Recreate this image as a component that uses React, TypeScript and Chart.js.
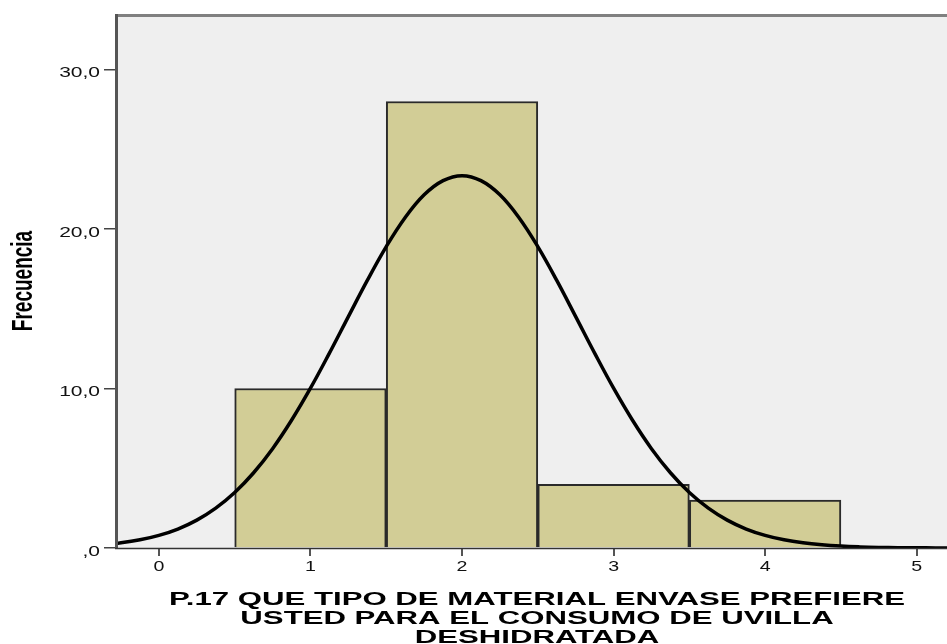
import React, { useEffect, useRef } from "react";
import { Chart, registerables } from "chart.js";

Chart.register(...registerables);

// Histogram bins (bin centres) and their frequencies
const binCenters = [1, 2, 3, 4];
const frequencies = [10, 28, 4, 3];

// Normal curve
const curveX = [
  -0.375, -0.25, -0.125, 0, 0.125, 0.25, 0.375, 0.5, 0.625, 0.75, 0.875, 1.0,
  1.125, 1.25, 1.375, 1.5, 1.625, 1.75, 1.875, 2.0, 2.125, 2.25, 2.375, 2.5,
  2.625, 2.75, 2.875, 3.0, 3.125, 3.25, 3.375, 3.5, 3.625, 3.75, 3.875, 4.0,
  4.125, 4.25, 4.375, 4.5, 4.625, 4.75, 4.875, 5.0, 5.125, 5.25,
];
const curveY = [
  0.198, 0.323, 0.513, 0.793, 1.19, 1.75, 2.5, 3.48, 4.72, 6.23, 8.01, 10.02,
  12.22, 14.51, 16.78, 18.9, 20.73, 22.15, 23.04, 23.35, 23.04, 22.15, 20.73, 18.9,
  16.78, 14.51, 12.22, 10.02, 8.01, 6.23, 4.72, 3.48, 2.5, 1.75, 1.19, 0.793,
  0.513, 0.323, 0.198, 0.118, 0.069, 0.039, 0.0215, 0.0116, 0.006, 0.003,
];

// Tick labels
const xTickValues = [0, 1, 2, 3, 4, 5];
const xTickLabels = ["0", "1", "2", "3", "4", "5"];
const yTickValues = [0, 10, 20, 30];
const yTickLabels = [",0", "10,0", "20,0", "30,0"];

const xTitleLines = [
  "P.17 QUE TIPO DE MATERIAL ENVASE PREFIERE",
  "USTED PARA EL CONSUMO DE UVILLA",
  "DESHIDRATADA",
];
const yTitle = "Frecuencia";

const FONT = '"Liberation Sans", Arial, sans-serif';

function drawStretched(
  ctx: CanvasRenderingContext2D,
  text: string,
  x: number,
  y: number,
  sx: number,
  font: string,
  align: CanvasTextAlign
) {
  ctx.save();
  ctx.translate(x, y);
  ctx.scale(sx, 1);
  ctx.font = font;
  ctx.textAlign = align;
  ctx.textBaseline = "alphabetic";
  ctx.fillText(text, 0, 0);
  ctx.restore();
}

const framePlugin = {
  id: "spssFrame",
  beforeDraw(chart: any) {
    const { ctx, chartArea: a } = chart;
    ctx.save();
    ctx.fillStyle = "#EFEFEF";
    ctx.fillRect(a.left, a.top, a.right - a.left, a.bottom - a.top);
    ctx.restore();
  },
  afterDraw(chart: any) {
    const { ctx, chartArea: a } = chart;
    ctx.save();
    // top border
    ctx.strokeStyle = "#808080";
    ctx.lineWidth = 3;
    ctx.beginPath();
    ctx.moveTo(a.left - 3, a.top - 1.5);
    ctx.lineTo(a.right, a.top - 1.5);
    ctx.stroke();
    // left axis
    ctx.strokeStyle = "#555555";
    ctx.lineWidth = 3;
    ctx.beginPath();
    ctx.moveTo(a.left - 1.5, a.top - 3);
    ctx.lineTo(a.left - 1.5, a.bottom + 1);
    ctx.stroke();
    // bottom axis
    ctx.strokeStyle = "#333333";
    ctx.lineWidth = 1.5;
    ctx.beginPath();
    ctx.moveTo(a.left - 3, a.bottom + 0.5);
    ctx.lineTo(a.right, a.bottom + 0.5);
    ctx.stroke();

    // tick labels
    ctx.fillStyle = "#111111";
    const xs = chart.scales.x;
    const ys = chart.scales.y;
    xTickValues.forEach((v, i) => {
      const px = xs.getPixelForValue(v);
      drawStretched(ctx, xTickLabels[i], px, 571, 1.4, `14px ${FONT}`, "center");
    });
    yTickValues.forEach((v, i) => {
      const py = ys.getPixelForValue(v);
      drawStretched(ctx, yTickLabels[i], 100, py + 7.5, 1.5, `14px ${FONT}`, "right");
    });

    // x title (stretched to the reference width)
    ctx.fillStyle = "#000000";
    ctx.font = `bold 19px ${FONT}`;
    const w0 = ctx.measureText(xTitleLines[0]).width;
    const sx = 736 / w0;
    const baselines = [605, 624, 643];
    xTitleLines.forEach((t, i) => {
      drawStretched(ctx, t, 537, baselines[i], sx, `bold 19px ${FONT}`, "center");
    });

    // y title, rotated
    ctx.save();
    ctx.translate(24, 281);
    ctx.scale(1.6, 1);
    ctx.rotate(-Math.PI / 2);
    ctx.font = `bold 19px ${FONT}`;
    ctx.textAlign = "center";
    ctx.textBaseline = "middle";
    ctx.fillText(yTitle, 0, 0);
    ctx.restore();

    ctx.restore();
  },
};

export default function App() {
  const ref = useRef<HTMLCanvasElement | null>(null);

  useEffect(() => {
    if (!ref.current) return;
    const chart = new Chart(ref.current, {
      type: "bar",
      data: {
        datasets: [
          {
            type: "line",
            data: curveX.map((x, i) => ({ x, y: curveY[i] })),
            borderColor: "#000000",
            borderWidth: 3.5,
            pointRadius: 0,
            tension: 0.4,
            fill: false,
            order: 1,
          } as any,
          {
            type: "bar",
            data: binCenters.map((x, i) => ({ x, y: frequencies[i] })),
            backgroundColor: "#D2CD96",
            borderColor: "#2a2a2a",
            borderWidth: 2,
            barPercentage: 1,
            categoryPercentage: 1,
            order: 2,
          } as any,
        ],
      },
      options: {
        responsive: false,
        animation: false,
        devicePixelRatio: 1,
        layout: { padding: { top: 17, right: 0, bottom: 0, left: 0 } },
        plugins: {
          legend: { display: false },
          tooltip: { enabled: false },
        },
        scales: {
          x: {
            type: "linear",
            position: "bottom",
            offset: false,
            min: -0.27,
            max: 5.2,
            ticks: { stepSize: 1, includeBounds: false, display: false },
            grid: {
              display: true,
              offset: false,
              drawOnChartArea: false,
              drawTicks: true,
              tickLength: 8,
              color: "#555555",
              lineWidth: 2,
            },
            border: { display: false },
            afterFit: (s: any) => {
              s.height = 96;
            },
          },
          y: {
            type: "linear",
            min: 0,
            max: 33.3,
            ticks: { stepSize: 10, includeBounds: false, display: false },
            grid: {
              display: true,
              drawOnChartArea: false,
              drawTicks: true,
              tickLength: 14,
              color: "#444444",
              lineWidth: 1.5,
            },
            border: { display: false },
            afterFit: (s: any) => {
              s.width = 118;
            },
          },
        },
      } as any,
      plugins: [framePlugin],
    });
    return () => chart.destroy();
  }, []);

  return (
    <div style={{ position: "absolute", left: 0, top: 0, width: 947, height: 644, background: "#ffffff" }}>
      <canvas ref={ref} width={947} height={644} style={{ display: "block" }} />
    </div>
  );
}
